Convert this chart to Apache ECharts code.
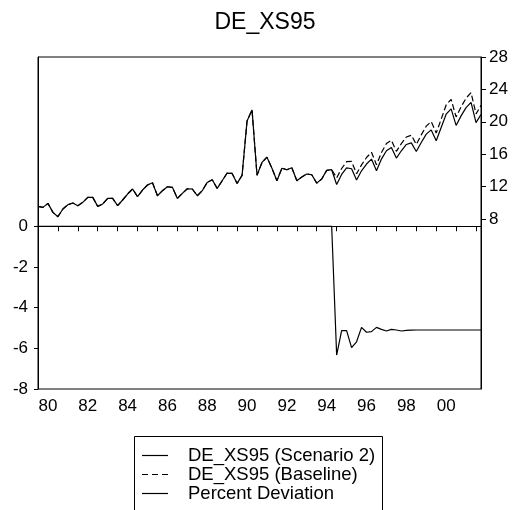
<!DOCTYPE html>
<html>
<head>
<meta charset="utf-8">
<script src="https://cdn.jsdelivr.net/npm/echarts@6/dist/echarts.min.js"></script>
<style>
  html, body { margin: 0; padding: 0; background: #fff; }
  #chart { width: 515px; height: 510px; }
</style>
</head>
<body>
<div id="chart"></div>
<script>
// quarterly, 1980Q1 .. 2002Q2
var firstYear = 1980;
var lastYear = 2002;
var lastQuarter = 2;

// DE_XS95 (Scenario 2), right axis
var scenario2 = [
  9.55, 9.43, 9.92, 8.81,
  8.28, 9.23, 9.76, 9.97,
  9.64, 10.05, 10.66, 10.66,
  9.55, 9.85, 10.54, 10.54,
  9.64, 10.34, 11.08, 11.70,
  10.75, 11.57, 12.19, 12.47,
  10.87, 11.49, 11.98, 11.90,
  10.54, 11.16, 11.73, 11.70,
  10.87, 11.49, 12.51, 12.84,
  11.77, 12.72, 13.67, 13.62,
  12.39, 13.38, 20.11, 21.47,
  13.40, 14.98, 15.63, 14.26,
  12.72, 14.26, 14.08, 14.32,
  12.72, 13.17, 13.55, 13.46,
  12.42, 12.93, 14.00, 14.08,
  12.25, 13.50, 14.30, 14.20,
  12.81, 13.95, 14.78, 15.39,
  13.95, 15.39, 16.42, 16.82,
  15.52, 16.42, 17.20, 17.40,
  16.33, 17.44, 18.47, 19.00,
  17.65, 19.29, 20.94, 21.60,
  19.55, 20.73, 21.75, 22.40,
  19.90, 20.90
];

// DE_XS95 (Baseline): same as scenario 2 up to 1994Q4, then these
var baselineTail = [
  13.08, 14.23, 15.07, 15.10,
  13.58, 14.68, 15.59, 16.23,
  14.68, 16.21, 17.31, 17.72,
  16.35, 17.31, 18.12, 18.34,
  17.21, 18.38, 19.46, 20.02,
  18.60, 20.33, 22.07, 22.76,
  20.60, 21.84, 22.92, 23.60,
  20.97, 22.02
];

// Percent Deviation, left axis
var deviation = [
  0, 0, 0, 0, 0, 0, 0, 0, 0, 0, 0, 0, 0, 0, 0, 0, 0, 0, 0, 0,
  0, 0, 0, 0, 0, 0, 0, 0, 0, 0, 0, 0, 0, 0, 0, 0, 0, 0, 0, 0,
  0, 0, 0, 0, 0, 0, 0, 0, 0, 0, 0, 0, 0, 0, 0, 0, 0, 0, 0, 0,
  -6.33, -5.13, -5.13, -5.97,
  -5.68, -4.97, -5.21, -5.18,
  -4.97, -5.07, -5.15, -5.07,
  -5.10, -5.15, -5.12, -5.11,
  -5.10, -5.10, -5.10, -5.10,
  -5.10, -5.10, -5.10, -5.10,
  -5.10, -5.10, -5.10, -5.10,
  -5.10, -5.10
];

var leftTicks = [-8, -6, -4, -2, 0];
var rightTicks = [8, 12, 16, 20, 24, 28];

var quarters = [];
for (var y = firstYear; y <= lastYear; y++) {
  for (var q = 1; q <= 4; q++) {
    if (y === lastYear && q > lastQuarter) break;
    quarters.push(y + 'Q' + q);
  }
}
var baseline = scenario2.slice(0, scenario2.length - baselineTail.length).concat(baselineTail);

// legend samples: plain line / dashed line
var solidIcon = 'path://M0,0h26v1.2h-26z';
var dashIcon = 'path://M0,0h6v1.2h-6z M10,0h6v1.2h-6z M20,0h6v1.2h-6z';

var FONT = 'Liberation Sans, Arial, sans-serif';
var chart = echarts.init(document.getElementById('chart'));

chart.setOption({
  animation: false,
  backgroundColor: '#fff',
  title: {
    text: 'DE_XS95',
    left: 260,
    textAlign: 'center',
    top: 6,
    textStyle: { fontFamily: FONT, fontSize: 23, fontWeight: 'normal', color: '#000' }
  },
  legend: {
    orient: 'vertical',
    left: 137,
    top: 441,
    itemWidth: 26,
    itemHeight: 14,
    itemGap: 0,
    itemStyle: { color: '#000' },
    data: [
      { name: 'DE_XS95 (Scenario 2)', icon: solidIcon },
      { name: 'DE_XS95 (Baseline)', icon: dashIcon },
      { name: 'Percent Deviation', icon: solidIcon }
    ],
    textStyle: { fontFamily: FONT, fontSize: 18.5, color: '#000', lineHeight: 18.3, padding: [0, 0, 0, 15] }
  },
  graphic: [{
    type: 'rect',
    shape: { x: 134.5, y: 436.5, width: 248, height: 100 },
    style: { fill: null, stroke: '#000', lineWidth: 1 }
  }],
  grid: {
    left: 38, top: 57, width: 443, height: 332,
    show: true, borderColor: '#000', borderWidth: 1
  },
  xAxis: {
    type: 'category',
    data: quarters,
    boundaryGap: false,
    axisLine: { lineStyle: { color: '#000', width: 1 } },
    axisTick: {
      length: 5,
      lineStyle: { color: '#000' },
      interval: function (i) { return i % 4 === 0; }
    },
    axisLabel: {
      interval: function (i) { return i % 8 === 2; },
      formatter: function (v) { return v.slice(2, 4); },
      margin: 9,
      fontFamily: FONT, fontSize: 17, color: '#000'
    },
    splitLine: { show: false }
  },
  yAxis: [{
    type: 'value',
    position: 'left',
    min: -8,
    max: 8.32,
    axisLine: { show: true, lineStyle: { color: '#000' } },
    axisTick: { show: true, length: 4, customValues: leftTicks, lineStyle: { color: '#000' } },
    axisLabel: { customValues: leftTicks, margin: 10, fontFamily: FONT, fontSize: 17, color: '#000' },
    splitLine: { show: false }
  }, {
    type: 'value',
    position: 'right',
    min: -13,
    max: 28,
    axisLine: { show: true, lineStyle: { color: '#000' } },
    axisTick: { show: true, length: 5, customValues: rightTicks, lineStyle: { color: '#000' } },
    axisLabel: { customValues: rightTicks, margin: 8, fontFamily: FONT, fontSize: 17, color: '#000' },
    splitLine: { show: false }
  }],
  series: [{
    name: 'DE_XS95 (Baseline)',
    type: 'line',
    yAxisIndex: 1,
    data: baseline,
    symbol: 'none',
    lineStyle: { color: '#000', width: 1.2, type: [6, 3] },
    itemStyle: { color: '#000' }
  }, {
    name: 'DE_XS95 (Scenario 2)',
    type: 'line',
    yAxisIndex: 1,
    data: scenario2,
    symbol: 'none',
    lineStyle: { color: '#000', width: 1.2 },
    itemStyle: { color: '#000' }
  }, {
    name: 'Percent Deviation',
    type: 'line',
    yAxisIndex: 0,
    data: deviation,
    symbol: 'none',
    lineStyle: { color: '#000', width: 1.2 },
    itemStyle: { color: '#000' }
  }]
});
</script>
</body>
</html>
